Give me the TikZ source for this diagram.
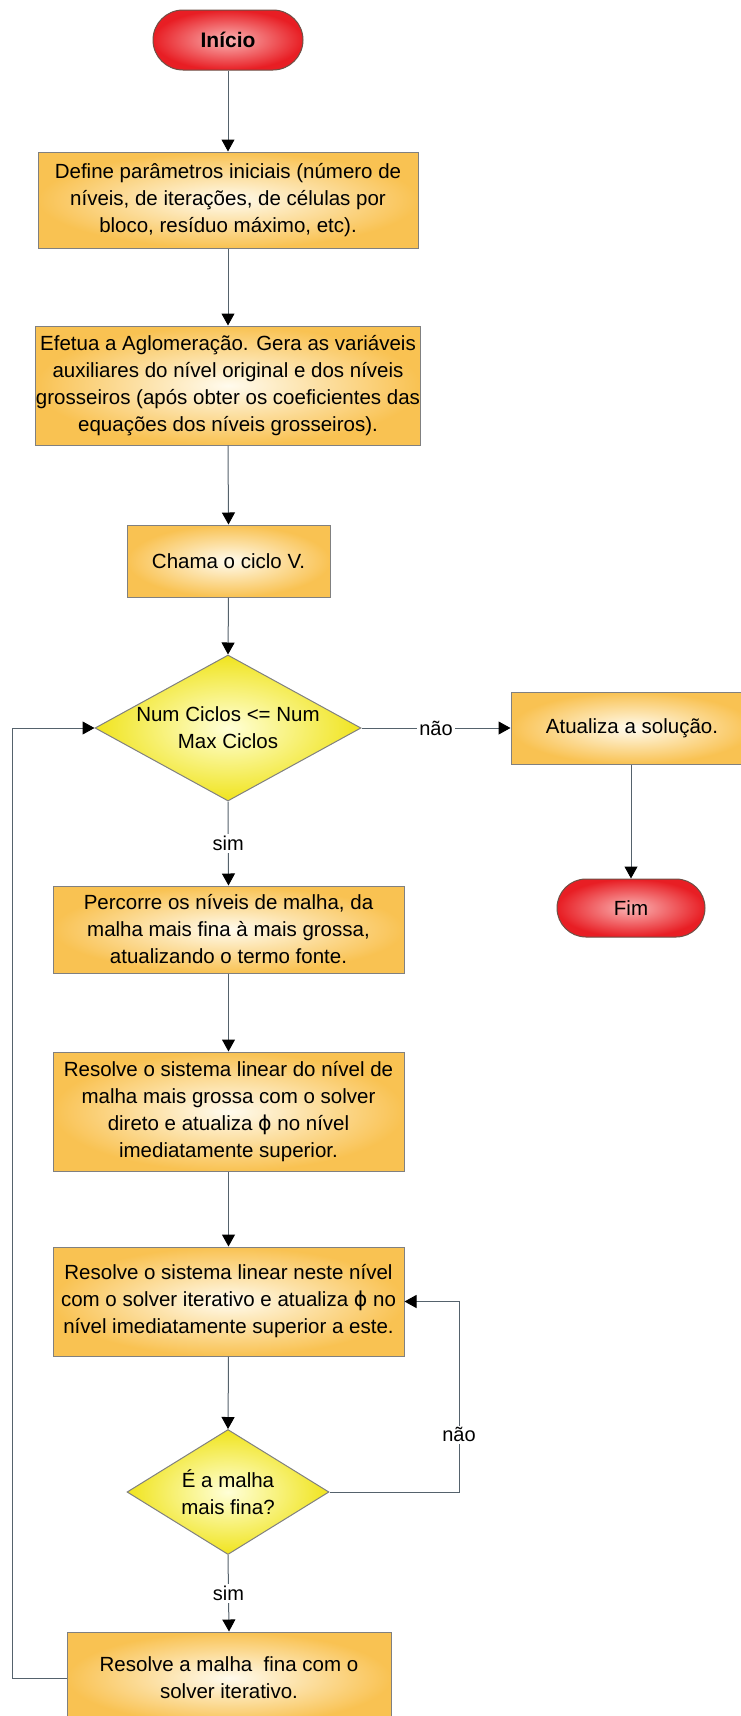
\documentclass[tikz,border=0pt]{standalone}
\usepackage{fontspec}
\setmainfont{Liberation Sans}
\newfontfamily\phifont{DejaVu Sans}
\usetikzlibrary{arrows.meta,shapes.geometric}
\definecolor{boxout}{RGB}{249,194,82}
\definecolor{boxin}{RGB}{255,251,238}
\definecolor{yelout}{RGB}{240,228,30}
\definecolor{yelin}{RGB}{255,255,215}
\definecolor{redout}{RGB}{232,30,36}
\definecolor{redin}{RGB}{250,180,180}
\definecolor{edgecol}{RGB}{128,128,128}
\definecolor{termedge}{RGB}{110,80,70}
\definecolor{conncol}{RGB}{85,98,108}
\begin{document}
\begin{tikzpicture}[x=1pt,y=-1pt,
  txt/.style={font=\fontsize{20.5}{27}\selectfont, align=center, text=black},
  procbox/.style={txt, rectangle, draw=edgecol, line width=1pt, inner color=boxin, outer color=boxout, inner sep=0pt},
  termbox/.style={txt, rectangle, draw=termedge, line width=1pt, inner color=redin, outer color=redout, inner sep=0pt},
  decbox/.style={shape=diamond, draw=edgecol, line width=1pt, inner color=yelin, outer color=yelout, inner sep=0pt},
  conn/.style={draw=conncol, line width=1pt, -{Triangle[length=12pt,width=13pt,color=black]}},
  lbl/.style={fill=white, inner sep=2pt, font=\fontsize{20}{24}\selectfont, text=black}
]
\fill[white] (0,0) rectangle (741,1716);
\useasboundingbox (0,0) rectangle (741,1716);

\node[termbox, minimum width=150pt, minimum height=60pt, rounded corners=30pt, font=\fontsize{21}{27}\selectfont\bfseries] (ini) at (228,40) {Início};

\node[procbox, minimum width=380pt, minimum height=96pt] (b1) at (228,200)
  {Define parâmetros iniciais (número de\\níveis, de iterações, de células por\\bloco, resíduo máximo, etc).};

\node[procbox, minimum width=384pt, minimum height=119pt] (b2) at (228,385.5)
  {Efetua a Aglomeração. Gera as variáveis\\auxiliares do nível original e dos níveis\\grosseiros (após obter os coeficientes das\\equações dos níveis grosseiros).};

\node[procbox, minimum width=203pt, minimum height=72pt] (b3) at (228.5,561) {Chama o ciclo V.};

\node[decbox, minimum width=266pt, minimum height=146pt,
  label={[txt]center:Num Ciclos <= Num\\Max Ciclos}] (d1) at (228,728) {};

\node[procbox, minimum width=242pt, minimum height=72pt] (at) at (632,728) {Atualiza a solução.};

\node[termbox, minimum width=148pt, minimum height=58pt, rounded corners=29pt] (fim) at (631,908) {Fim};

\node[procbox, minimum width=351pt, minimum height=87pt] (b4) at (228.5,929.5)
  {Percorre os níveis de malha, da\\malha mais fina à mais grossa,\\atualizando o termo fonte.};

\node[procbox, minimum width=351pt, minimum height=119pt] (b5) at (228.5,1111.5)
  {Resolve o sistema linear do nível de\\malha mais grossa com o solver\\direto e atualiza {\phifont ϕ} no nível\\imediatamente superior.};

\node[procbox, minimum width=351pt, minimum height=109pt] (b6) at (228.5,1301.5)
  {Resolve o sistema linear neste nível\\com o solver iterativo e atualiza {\phifont ϕ} no\\nível imediatamente superior a este.};

\node[decbox, minimum width=202pt, minimum height=125pt,
  label={[txt]center:É a malha\\mais fina?}] (d2) at (228,1492) {};

\node[procbox, minimum width=324pt, minimum height=92pt] (b7) at (229,1678)
  {Resolve a malha~ fina com o\\solver iterativo.};

\coordinate (c1) at (459,1492);
\coordinate (c3) at (12,1678);

% connectors
\draw[conn] (ini.south) -- (b1.north);
\draw[conn] (b1.south) -- (b2.north);
\draw[conn] (b2.south) -- (b3.north);
\draw[conn] (b3.south) -- (d1.north);
\draw[conn] (d1.east) -- node[lbl]{não} (at.west);
\draw[conn] (at.south -| fim.north) -- (fim.north);
\draw[conn] (d1.south) -- node[lbl]{sim} (b4.north);
\draw[conn] (b4.south) -- (b5.north);
\draw[conn] (b5.south) -- (b6.north);
\draw[conn] (b6.south) -- (d2.north);
\draw[conn] (d2.east) -- (c1) -- node[lbl, pos=0.3]{não} (c1 |- b6.east) -- (b6.east);
\draw[conn] (d2.south) -- node[lbl]{sim} (b7.north);
\draw[conn] (b7.west) -- (c3) -- (c3 |- d1.west) -- (d1.west);
\end{tikzpicture}
\end{document}
